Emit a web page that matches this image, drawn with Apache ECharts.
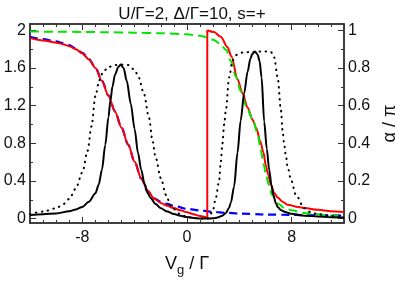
<!DOCTYPE html>
<html><head><meta charset="utf-8">
<script src="https://cdn.jsdelivr.net/npm/echarts@6/dist/echarts.min.js"></script>
<style>html,body{margin:0;padding:0;background:#fff}#c{width:395px;height:284px}</style>
</head><body><div id="c"></div>
<script>
// ---- text ----
const titleText = 'U/Γ=2, Δ/Γ=10, s=+';
const rightAxisName = 'α / π';

// ---- ticks / labels ----
const xTickValues = [-12,-11,-10,-9,-8,-7,-6,-5,-4,-3,-2,-1,0,1,2,3,4,5,6,7,8,9,10,11,12];
const xLabelValues = [-8, 0, 8];
const gTickValues = [0,0.2,0.4,0.6,0.8,1.0,1.2,1.4,1.6,1.8,2.0];
const gLabelValues = [0,0.4,0.8,1.2,1.6,2];
const phaseTickValues = [0,0.1,0.2,0.3,0.4,0.5,0.6,0.7,0.8,0.9,1.0];
const phaseLabelValues = [0,0.2,0.4,0.6,0.8,1];

// ---- conductance, solid black (left axis) ----
const gSolidX = [-12,-11,-10,-9,-8.5,-8,-7.5,-7,-6.75,-6.5,-6.25,-6,-5.85,-5.7,-5.5,-5.25,-5.07,-4.85,-4.6,-4.3,-4.0,-3.75,-3.5,-3.25,-3.0,-2.78,-2.4,-2,-1.5,-1,-0.5,0,0.5,1,1.5,2.0,2.33,2.7,2.97,3.2,3.35,3.6,3.86,4.1,4.37,4.63,4.85,5.0,5.19,5.4,5.55,5.7,5.9,6.1,6.28,6.45,6.6,6.8,6.95,7.2,7.5,7.95,9,10,11,12];
const gSolidY = [0.040,0.046,0.056,0.078,0.097,0.125,0.18,0.27,0.36,0.52,0.78,1.08,1.26,1.40,1.53,1.61,1.635,1.60,1.46,1.22,0.95,0.70,0.52,0.37,0.27,0.22,0.155,0.11,0.075,0.05,0.03,0.017,0.008,0.003,0.001,0.004,0.012,0.03,0.06,0.11,0.17,0.34,0.70,1.04,1.33,1.56,1.70,1.75,1.775,1.74,1.67,1.50,1.03,0.74,0.52,0.36,0.25,0.16,0.12,0.09,0.07,0.053,0.032,0.022,0.016,0.012];

// ---- conductance, dotted black (left axis) ----
const gDotX = [-12,-11,-10,-9.5,-9,-8.5,-8,-7.6,-7.3,-7.0,-6.7,-6.4,-6.0,-5.5,-5.0,-4.5,-4.0,-3.7,-3.3,-2.9,-2.65,-2.4,-2.0,-1.6,-1.25,-1.0,-0.5,0,0.5,1,1.56,1.95,2.2,2.45,2.58,2.71,2.84,2.97,3.22,3.48,3.86,4.3,5.0,6.0,6.41,6.67,6.93,7.18,7.31,7.43,7.56,7.69,7.95,8.33,8.97,9.5,10,11,12];
const gDotY = [0.05,0.075,0.11,0.15,0.21,0.32,0.49,0.72,0.98,1.30,1.47,1.56,1.61,1.63,1.635,1.63,1.58,1.50,1.33,1.07,0.84,0.65,0.43,0.25,0.14,0.10,0.045,0.02,0.007,0.002,0.0,0.07,0.22,0.40,0.60,0.80,1.00,1.15,1.50,1.68,1.745,1.765,1.77,1.775,1.77,1.71,1.50,1.15,0.93,0.78,0.67,0.55,0.41,0.25,0.11,0.065,0.048,0.03,0.02];

// ---- phase, red (right axis): before and after the jump ----
const redLowX = [-12,-11,-10,-9.5,-9,-8.5,-8,-7.5,-7,-6.5,-6,-5.5,-5,-4.5,-4,-3.5,-3,-2.5,-2,-1.5,-1,-0.5,0,0.5,1,1.55];
const redLowY = [0.958,0.946,0.934,0.926,0.915,0.899,0.877,0.845,0.80,0.73,0.652,0.568,0.482,0.393,0.302,0.215,0.148,0.106,0.083,0.068,0.056,0.044,0.034,0.024,0.014,0.004];
const redHighX = [1.55,2.07,2.58,3.1,3.4,3.86,4.24,4.63,5.01,5.3,5.6,5.85,6.03,6.2,6.41,6.67,6.93,7.3,7.69,8.5,9,10,11,12];
const redHighY = [1.0,0.99,0.965,0.91,0.86,0.74,0.665,0.59,0.525,0.48,0.41,0.35,0.28,0.235,0.18,0.136,0.112,0.09,0.074,0.062,0.056,0.047,0.04,0.035];

// ---- phase, blue dashed (right axis) ----
const blueX = [-12,-11,-10,-9.5,-9,-8.5,-8,-7.5,-7,-6.5,-6,-5.5,-5,-4.5,-4,-3.5,-3,-2.5,-2,-1.5,-1,0,1,2,3,4,6,8,10,12];
const blueY = [0.965,0.953,0.941,0.932,0.921,0.903,0.880,0.848,0.802,0.732,0.653,0.569,0.482,0.393,0.301,0.212,0.143,0.108,0.09,0.078,0.068,0.052,0.044,0.036,0.031,0.027,0.022,0.020,0.018,0.016];

// ---- phase, green dashed (right axis) ----
const greenX = [-12,-10,-8,-6,-4,-2,0,1,1.5,2.0,2.5,3.0,3.35,3.73,4.11,4.5,5.0,5.39,5.65,5.85,6.03,6.25,6.5,6.93,7.5,8,9,10,11,12];
const greenY = [0.993,0.992,0.991,0.989,0.987,0.984,0.978,0.970,0.963,0.950,0.930,0.895,0.835,0.755,0.675,0.60,0.53,0.455,0.36,0.29,0.235,0.18,0.125,0.08,0.055,0.044,0.030,0.023,0.017,0.014];

const zip = (xs, ys) => xs.map((x, i) => [x, ys[i]]);

const AX = '#333';
const LBL = { color: '#111', fontFamily: 'Liberation Sans', fontSize: 16 };

function xAx(position, ticks, len, labels) {
  return {
    type: 'value', position, min: -12, max: 12,
    axisLine: { show: true, onZero: false, lineStyle: { color: AX, width: 1.5 } },
    axisTick: { show: true, inside: true, length: len, customValues: ticks, lineStyle: { color: AX, width: 1 } },
    axisLabel: labels ? Object.assign({ show: true, customValues: labels, margin: 7 }, LBL) : { show: false },
    splitLine: { show: false }
  };
}
function yAx(position, min, max, ticks, len, labels, extra) {
  return Object.assign({
    type: 'value', position, min, max,
    axisLine: { show: true, onZero: false, lineStyle: { color: AX, width: 1.5 } },
    axisTick: { show: true, inside: true, length: len, customValues: ticks, lineStyle: { color: AX, width: 1 } },
    axisLabel: labels ? Object.assign({ show: true, customValues: labels, margin: 4 }, LBL) : { show: false },
    splitLine: { show: false }
  }, extra || {});
}

const gMin = -0.046, gMax = 2.066;
const chart = echarts.init(document.getElementById('c'), null, { renderer: 'canvas' });
chart.setOption({
  animation: false,
  backgroundColor: '#fff',
  title: {
    text: titleText, left: 187, top: 1, textAlign: 'center',
    textStyle: { fontFamily: 'Liberation Sans', fontSize: 17, fontWeight: 'normal', color: '#111' }
  },
  grid: { left: 30, right: 51, top: 24, bottom: 61, containLabel: false, outerBoundsMode: 'none' },
  xAxis: [
    Object.assign(xAx('bottom', xLabelValues, 6, xLabelValues), {
      name: 'V{s|g} / Γ', nameLocation: 'middle', nameGap: 29,
      nameTextStyle: { fontFamily: 'Liberation Sans', fontSize: 18, color: '#111',
        rich: { s: { fontFamily: 'Liberation Sans', fontSize: 13, verticalAlign: 'bottom', padding: [12, 0, 0, 0], color: '#111' } } }
    }),
    xAx('bottom', xTickValues, 3, null),
    xAx('top', xTickValues, 3, null),
    xAx('top', xLabelValues, 6, null)
  ],
  yAxis: [
    yAx('left', gMin, gMax, gLabelValues, 6, gLabelValues),
    yAx('left', gMin, gMax, gTickValues, 3, null),
    yAx('right', gMin / 2, gMax / 2, phaseLabelValues, 6, phaseLabelValues, {
      name: rightAxisName, nameLocation: 'middle', nameRotate: 90, nameGap: 36,
      nameTextStyle: { fontFamily: 'Liberation Sans', fontSize: 18, color: '#111' }
    }),
    yAx('right', gMin / 2, gMax / 2, phaseTickValues, 3, null)
  ],
  series: [
    { name: 'blue', type: 'line', xAxisIndex: 0, yAxisIndex: 2, data: zip(blueX, blueY), symbol: 'none', smooth: 0.3, smoothMonotone: 'x',
      lineStyle: { color: '#0000ff', width: 2.2, type: [8, 5] }, z: 2 },
    { name: 'redLow', type: 'line', xAxisIndex: 0, yAxisIndex: 2, data: zip(redLowX, redLowY), symbol: 'none', smooth: 0.3, smoothMonotone: 'x',
      lineStyle: { color: '#ff0000', width: 2 }, z: 3 },
    { name: 'redJump', type: 'line', xAxisIndex: 0, yAxisIndex: 2,
      data: [[redLowX[redLowX.length - 1], redLowY[redLowY.length - 1]], [redHighX[0], redHighY[0]]], symbol: 'none',
      lineStyle: { color: '#ff0000', width: 2 }, z: 3 },
    { name: 'redHigh', type: 'line', xAxisIndex: 0, yAxisIndex: 2, data: zip(redHighX, redHighY), symbol: 'none', smooth: 0.3, smoothMonotone: 'x',
      lineStyle: { color: '#ff0000', width: 2 }, z: 3 },
    { name: 'green', type: 'line', xAxisIndex: 0, yAxisIndex: 2, data: zip(greenX, greenY), symbol: 'none', smooth: 0.3, smoothMonotone: 'x',
      lineStyle: { color: '#00e600', width: 2, type: [9, 5] }, z: 4 },
    { name: 'gDot', type: 'line', xAxisIndex: 0, yAxisIndex: 0, data: zip(gDotX, gDotY), symbol: 'none', smooth: 0.3, smoothMonotone: 'x',
      lineStyle: { color: '#000', width: 2, type: [0.5, 5.5], cap: 'round' }, z: 5 },
    { name: 'gSolid', type: 'line', xAxisIndex: 0, yAxisIndex: 0, data: zip(gSolidX, gSolidY), symbol: 'none', smooth: 0.3, smoothMonotone: 'x',
      lineStyle: { color: '#000', width: 2 }, z: 5 }
  ]
});
</script></body></html>
